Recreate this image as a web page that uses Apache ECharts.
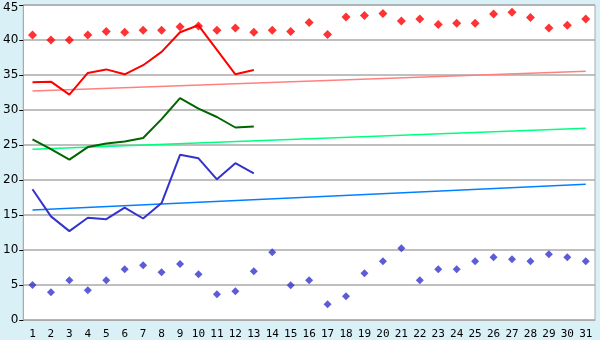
<!DOCTYPE html>
<html><head><meta charset="utf-8">
<script src="https://cdn.jsdelivr.net/npm/echarts@6/dist/echarts.min.js"></script>
<style>html,body{margin:0;padding:0;background:#d9f0f7;}#c{width:600px;height:340px;}</style>
</head><body><div id="c"></div>
<script>
var days = ['1','2','3','4','5','6','7','8','9','10','11','12','13','14','15','16','17','18','19','20','21','22','23','24','25','26','27','28','29','30','31'];
var redDots = [40.7,40.0,40.0,40.7,41.2,41.1,41.4,41.4,41.9,42.0,41.4,41.7,41.1,41.4,41.2,42.5,40.8,43.3,43.5,43.8,42.7,43.0,42.2,42.4,42.4,43.7,43.95,43.2,41.7,42.1,43.0];
var blueDots = [5.0,3.95,5.67,4.24,5.67,7.24,7.81,6.81,8.0,6.52,3.67,4.1,6.95,9.67,4.95,5.67,2.24,3.38,6.67,8.38,10.24,5.67,7.24,7.24,8.38,8.95,8.67,8.38,9.38,8.95,8.38];
var redLine = [33.95,34.05,32.2,35.3,35.8,35.1,36.4,38.3,41.1,42.1,38.6,35.1,35.7];
var greenLine = [25.8,24.4,22.9,24.7,25.2,25.5,26.0,28.7,31.7,30.2,29.0,27.5,27.65];
var blueLine = [18.67,14.8,12.7,14.6,14.4,16.05,14.5,16.7,23.6,23.1,20.1,22.4,20.95];
var redTrend = [32.7,35.55];
var greenTrend = [24.4,27.4];
var blueTrend = [15.7,19.4];
var yTicks = [0,5,10,15,20,25,30,35,40,45];

function trend(t){ return [[days[0], t[0]], [days[days.length-1], t[1]]]; }
var yMax = yTicks[yTicks.length-1];

var chart = echarts.init(document.getElementById('c'));
chart.setOption({
  backgroundColor: '#d9f0f7',
  animation: false,
  textStyle: {fontFamily: 'DejaVu Sans'},
  grid: {left: 20, right: 5, top: 5, bottom: 20, show: true, backgroundColor: '#ffffff', borderColor: '#aaaaaa', borderWidth: 1},
  xAxis: {
    type: 'category', data: days, boundaryGap: true,
    axisLine: {lineStyle: {color: '#aaaaaa', width: 1}},
    axisTick: {alignWithLabel: true, length: 4, lineStyle: {color: '#000'}},
    axisLabel: {color: '#000', fontSize: 11, fontFamily: 'DejaVu Sans Mono', margin: 9, interval: 0}
  },
  yAxis: {
    type: 'value', min: yTicks[0], max: yMax, interval: 5,
    axisLine: {show: true, lineStyle: {color: '#aaaaaa', width: 1}},
    axisTick: {show: true, length: 4, lineStyle: {color: '#000'}},
    axisLabel: {color: '#000', fontSize: 12, margin: 5,
      formatter: function(v){ return v === yMax ? '{t|' + v + '}' : String(v); },
      rich: {t: {fontSize: 12, color: '#000', padding: [6, 0, 0, 0]}}},
    splitLine: {lineStyle: {color: '#aaaaaa', width: 1.5}}
  },
  series: [
    {type: 'line', data: trend(redTrend), symbol: 'none', lineStyle: {color: '#ff8080', width: 1.5}},
    {type: 'line', data: trend(greenTrend), symbol: 'none', lineStyle: {color: '#00ff80', width: 1.5}},
    {type: 'line', data: trend(blueTrend), symbol: 'none', lineStyle: {color: '#0080ff', width: 1.5}},
    {type: 'line', data: redLine, symbol: 'none', lineStyle: {color: '#ff0000', width: 2}},
    {type: 'line', data: greenLine, symbol: 'none', lineStyle: {color: '#006600', width: 2}},
    {type: 'line', data: blueLine, symbol: 'none', lineStyle: {color: '#3333cc', width: 2}},
    {type: 'scatter', data: redDots, symbol: 'diamond', symbolSize: 9, itemStyle: {color: '#ff0000'}},
    {type: 'scatter', data: blueDots, symbol: 'diamond', symbolSize: 8, itemStyle: {color: '#3333cc'}}
  ]
});
</script></body></html>
